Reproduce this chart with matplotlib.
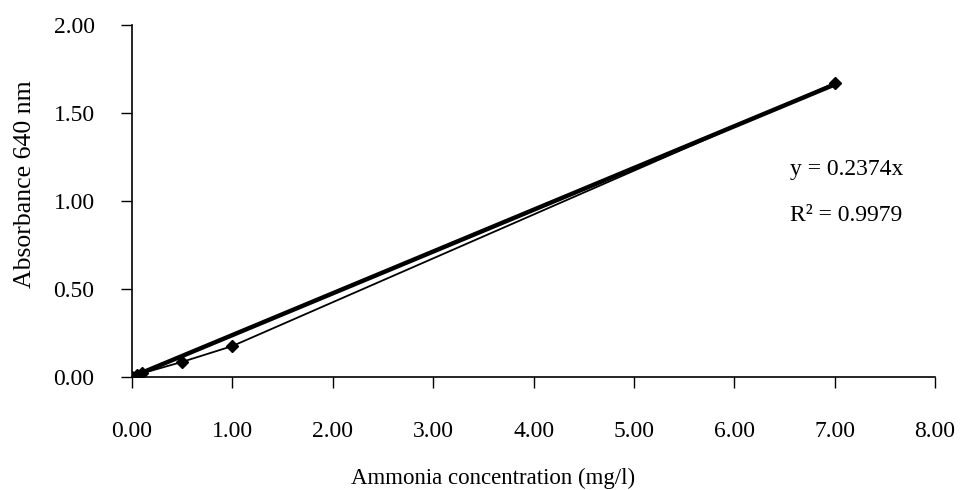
import matplotlib.pyplot as plt
import numpy as np

plt.rcParams["font.family"] = ["Liberation Serif", "DejaVu Serif"]

# Calibration data
concentration = [0.0, 0.05, 0.1, 0.5, 1.0, 7.0]
absorbance = [0.0, 0.01, 0.02, 0.085, 0.175, 1.67]
slope = 0.2374
r_squared = 0.9979

x_ticks = [0, 1, 2, 3, 4, 5, 6, 7, 8]
y_ticks = [0.0, 0.5, 1.0, 1.5, 2.0]

fig = plt.figure(figsize=(9.64, 4.9), dpi=100)
ax = fig.add_axes([0.137, 0.231, 0.833, 0.718])

# Linear trendline through origin
fit_x = np.array([0.0, concentration[-1]])
ax.plot(fit_x, slope * fit_x, color="black", linewidth=3.2, solid_capstyle="butt")

# Measured points joined by a thin line
ax.plot(concentration, absorbance, color="black", linewidth=1.3,
        marker="D", markersize=6.5, markerfacecolor="black")

ax.set_xlim(0, 8)
ax.set_ylim(0, 2)
ax.set_xticks(x_ticks)
ax.set_yticks(y_ticks)
ax.set_xticklabels([f"{v:.2f}" for v in x_ticks])
ax.set_yticklabels([f"{v:.2f}" for v in y_ticks])
ax.tick_params(labelsize=17, direction="out", length=8, width=1)
ax.tick_params(axis="x", pad=24)
ax.tick_params(axis="y", pad=19)
for side in ("top", "right"):
    ax.spines[side].set_visible(False)
for side in ("left", "bottom"):
    ax.spines[side].set_linewidth(1.2)

ax.set_xlabel("Ammonia concentration (mg/l)", fontsize=16.5)
ax.xaxis.set_label_coords(0.45, -0.258)
ax.set_ylabel("Absorbance 640 nm", fontsize=18.5)
ax.yaxis.set_label_coords(-0.12, 0.548)

ax.text(6.55, 1.176, f"y = {slope}x", fontsize=17, va="center", ha="left")
ax.text(6.55, 0.915, f"R\u00b2 = {r_squared}", fontsize=17, va="center", ha="left")

fig.savefig("out.png", dpi=100)
